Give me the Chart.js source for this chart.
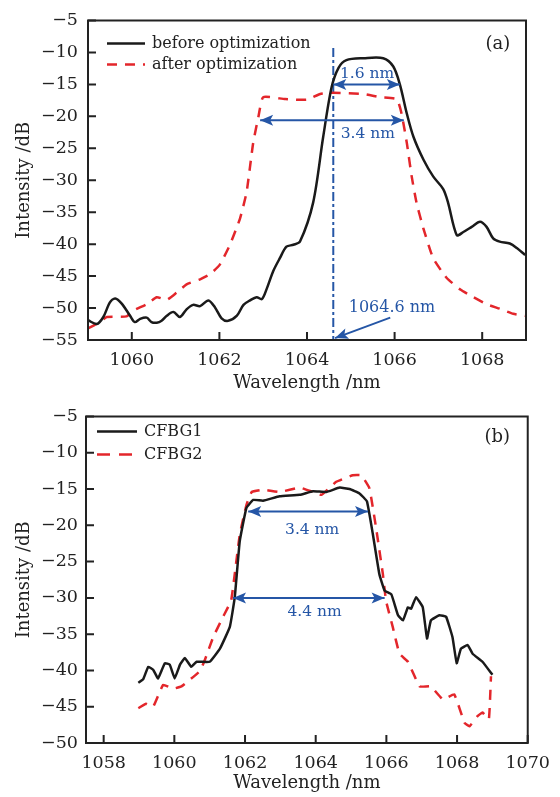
<!DOCTYPE html>
<html>
<head>
<meta charset="utf-8">
<script src="https://cdn.jsdelivr.net/npm/chart.js@4.4.0/dist/chart.umd.min.js"></script>
<style>
  body { margin: 0; background: #fff; }
  canvas { display: block; }
</style>
</head>
<body>
<canvas id="chartA" width="560" height="398"></canvas>
<canvas id="chartB" width="560" height="399"></canvas>
<script>
// ---- (a) before / after optimization ----
const waveBefore = [1059.0, 1059.2, 1059.35, 1059.5, 1059.62, 1059.77, 1059.96, 1060.07, 1060.19, 1060.34,
  1060.45, 1060.57, 1060.68, 1060.8, 1060.95, 1061.1, 1061.25, 1061.4, 1061.56, 1061.75,
  1061.9, 1062.05, 1062.2, 1062.4, 1062.55, 1062.7, 1062.85, 1062.97, 1063.08, 1063.23,
  1063.38, 1063.53, 1063.69, 1063.84, 1064.14, 1064.37, 1064.56, 1064.72, 1064.9, 1065.29,
  1065.74, 1065.97, 1066.12, 1066.28, 1066.43, 1066.66, 1066.88, 1067.11, 1067.22, 1067.42,
  1067.57, 1067.76, 1067.95, 1068.1, 1068.25, 1068.4, 1068.63, 1068.79, 1068.98];
const intBefore = [-51.9, -52.5, -51.4, -49.1, -48.5, -49.3, -51.2, -52.2, -51.7, -51.5,
  -52.2, -52.3, -52.0, -51.2, -50.6, -51.4, -50.2, -49.5, -49.7, -48.8,
  -49.9, -51.6, -52.0, -51.2, -49.5, -48.8, -48.3, -48.6, -47.0, -44.2,
  -42.2, -40.4, -40.1, -39.6, -33.5, -23.2, -15.5, -12.4, -11.2, -10.9,
  -10.9, -12.2, -15.0, -19.6, -23.2, -26.8, -29.4, -31.4, -33.5, -38.6,
  -38.1, -37.3, -36.5, -37.3, -39.1, -39.6, -39.9, -40.6, -41.7];
const waveAfter = [1059.0, 1059.27, 1059.43, 1059.88, 1060.03, 1060.34, 1060.57, 1060.8, 1061.02, 1061.25,
  1061.56, 1061.79, 1062.01, 1062.24, 1062.47, 1062.62, 1062.77, 1062.89, 1063.0, 1063.5,
  1064.0, 1064.3, 1064.6, 1065.29, 1065.67, 1066.05, 1066.16, 1066.28, 1066.39, 1066.5,
  1066.66, 1066.88, 1067.19, 1067.5, 1067.8, 1068.1, 1068.4, 1068.71, 1068.98];
const intAfter = [-53.2, -52.2, -51.4, -51.3, -50.4, -49.4, -48.3, -48.7, -47.6, -46.3,
  -45.5, -44.7, -43.2, -40.1, -36.0, -31.9, -24.2, -20.1, -17.0, -17.3,
  -17.4, -16.5, -16.3, -16.5, -17.0, -17.3, -19.6, -24.2, -29.4, -33.5,
  -37.6, -42.2, -45.3, -47.1, -48.3, -49.4, -50.1, -50.9, -51.2];
const xTicksA = [1060, 1062, 1064, 1066, 1068];
const yTicksA = [-55, -50, -45, -40, -35, -30, -25, -20, -15, -10, -5];
const centreWave = 1064.6;
const centreSpan = [-9.3, -55];

// ---- (b) CFBG1 / CFBG2 ----
const waveCfbg1 = [1058.98, 1059.12, 1059.26, 1059.4, 1059.54, 1059.73, 1059.87, 1060.01, 1060.16, 1060.3,
  1060.48, 1060.63, 1061.0, 1061.29, 1061.57, 1061.71, 1061.85, 1062.04, 1062.23, 1062.51,
  1062.98, 1063.55, 1063.92, 1064.3, 1064.68, 1064.96, 1065.24, 1065.45, 1065.62, 1065.8,
  1065.95, 1066.14, 1066.33, 1066.47, 1066.61, 1066.7, 1066.84, 1067.03, 1067.15, 1067.26,
  1067.5, 1067.69, 1067.87, 1067.99, 1068.11, 1068.3, 1068.44, 1068.72, 1069.0];
const intCfbg1 = [-41.7, -41.2, -39.5, -39.9, -41.1, -39.0, -39.2, -41.1, -39.2, -38.3,
  -39.5, -38.8, -38.8, -37.0, -34.0, -29.9, -22.2, -17.6, -16.5, -16.6,
  -16.0, -15.8, -15.3, -15.4, -14.8, -15.0, -15.6, -16.7, -21.3, -26.7,
  -29.0, -29.5, -32.4, -33.1, -31.3, -31.5, -29.9, -31.3, -35.6, -33.1,
  -32.4, -32.6, -35.4, -39.0, -37.0, -36.5, -37.7, -38.8, -40.6];
const waveCfbg2 = [1058.98, 1059.2, 1059.4, 1059.68, 1059.97, 1060.2, 1060.72, 1060.86, 1061.1, 1061.38,
  1061.61, 1061.85, 1062.04, 1062.19, 1062.51, 1062.98, 1063.55, 1063.92, 1064.16, 1064.58,
  1065.05, 1065.29, 1065.52, 1065.71, 1065.9, 1065.99, 1066.18, 1066.37, 1066.61, 1066.94,
  1067.26, 1067.6, 1067.92, 1068.21, 1068.35, 1068.58, 1068.72, 1068.9, 1068.96];
const intCfbg2 = [-45.2, -44.6, -45.0, -42.0, -42.5, -42.2, -40.1, -38.6, -35.4, -32.6,
  -30.3, -21.3, -17.2, -15.4, -15.1, -15.4, -14.8, -15.4, -15.8, -14.0,
  -13.1, -13.1, -14.9, -20.4, -26.7, -30.4, -34.0, -37.7, -38.8, -42.2,
  -42.2, -44.0, -43.3, -47.2, -47.7, -46.3, -45.8, -46.7, -40.8];
const xTicksB = [1058, 1060, 1062, 1064, 1066, 1068, 1070];
const yTicksB = [-50, -45, -40, -35, -30, -25, -20, -15, -10, -5];

const SERIF = '"DejaVu Serif", serif';
const INK = '#222';
const RED = '#e3262b';
const BLUE = '#2556a6';

const pts = (xs, ys) => xs.map((x, i) => ({ x, y: ys[i] }));
const minus = v => String(v).replace('-', '\u2212');

function arrowHead(ctx, x, y, ang) {
  ctx.save();
  ctx.translate(x, y);
  ctx.rotate(ang);
  ctx.beginPath();
  ctx.moveTo(0, 0);
  ctx.lineTo(-13, -5.5);
  ctx.lineTo(-10, 0);
  ctx.lineTo(-13, 5.5);
  ctx.closePath();
  ctx.fill();
  ctx.restore();
}

// arrow between two data points, heads at the ends asked for
function arrow(chart, p1, p2, both) {
  const { ctx, scales: { x, y } } = chart;
  const x1 = x.getPixelForValue(p1[0]), y1 = y.getPixelForValue(p1[1]);
  const x2 = x.getPixelForValue(p2[0]), y2 = y.getPixelForValue(p2[1]);
  const ang = Math.atan2(y2 - y1, x2 - x1);
  ctx.save();
  ctx.strokeStyle = BLUE; ctx.fillStyle = BLUE; ctx.lineWidth = 2;
  ctx.beginPath(); ctx.moveTo(x1, y1); ctx.lineTo(x2, y2); ctx.stroke();
  arrowHead(ctx, x2, y2, ang);
  if (both) arrowHead(ctx, x1, y1, ang + Math.PI);
  ctx.restore();
}

function label(chart, text, px, py, color, size) {
  const { ctx, scales: { x, y } } = chart;
  ctx.save();
  ctx.fillStyle = color;
  ctx.font = size + 'px ' + SERIF;
  ctx.textAlign = 'center'; ctx.textBaseline = 'middle';
  ctx.fillText(text, x.getPixelForValue(px), y.getPixelForValue(py));
  ctx.restore();
}

function legend(chart, items, dx, dy, gap, lineLen) {
  const { ctx, chartArea: a } = chart;
  items.forEach((it, i) => {
    const yy = a.top + dy + i * gap;
    ctx.save();
    ctx.strokeStyle = it.color; ctx.lineWidth = 2.5;
    ctx.setLineDash(it.dash || []);
    ctx.beginPath(); ctx.moveTo(a.left + dx, yy); ctx.lineTo(a.left + dx + lineLen, yy); ctx.stroke();
    ctx.setLineDash([]);
    ctx.fillStyle = INK; ctx.font = '16px ' + SERIF;
    ctx.textAlign = 'left'; ctx.textBaseline = 'middle';
    ctx.fillText(it.text, a.left + dx + lineLen + 7, yy);
    ctx.restore();
  });
}

// plot frame with inward tick marks
const framePlugin = {
  id: 'frame',
  afterDatasetsDraw(chart) {
    const { ctx, chartArea: a, scales: { x, y } } = chart;
    ctx.save();
    ctx.strokeStyle = INK; ctx.lineWidth = 2;
    ctx.strokeRect(a.left, a.top, a.right - a.left, a.bottom - a.top);
    ctx.beginPath();
    x.ticks.forEach(t => {
      const px = x.getPixelForValue(t.value);
      ctx.moveTo(px, a.bottom); ctx.lineTo(px, a.bottom - 8);
    });
    y.ticks.forEach(t => {
      const py = y.getPixelForValue(t.value);
      ctx.moveTo(a.left, py); ctx.lineTo(a.left + 8, py);
    });
    ctx.stroke();
    ctx.restore();
  }
};

function makeOptions(cfg) {
  const tickFont = { family: SERIF, size: 17.5 };
  const titleFont = { family: SERIF, size: 18, lineHeight: 1.2 };
  return {
    responsive: false,
    animation: false,
    layout: { padding: cfg.pad },
    plugins: { legend: { display: false }, tooltip: { enabled: false } },
    scales: {
      x: {
        type: 'linear', min: cfg.xMin, max: cfg.xMax,
        afterBuildTicks: s => { s.ticks = cfg.xTicks.map(v => ({ value: v })); },
        afterFit: s => { s.height = cfg.xH; },
        grid: { display: false, drawTicks: false },
        border: { display: false },
        ticks: { font: tickFont, color: INK, padding: 10, maxRotation: 0, autoSkip: false,
          callback: v => String(v) },
        title: { display: true, text: 'Wavelength /nm', color: INK,
          font: titleFont, padding: { top: 0, bottom: cfg.xTitlePad } }
      },
      y: {
        type: 'linear', min: cfg.yMin, max: cfg.yMax,
        afterBuildTicks: s => { s.ticks = cfg.yTicks.map(v => ({ value: v })); },
        afterFit: s => { s.width = cfg.yW; },
        grid: { display: false, drawTicks: false },
        border: { display: false },
        ticks: { font: tickFont, color: INK, padding: cfg.yPad, callback: v => minus(v) },
        title: { display: true, text: 'Intensity /dB', color: INK,
          font: titleFont, padding: { top: 14, bottom: 0 } }
      }
    }
  };
}

// Chart (a)
new Chart(document.getElementById('chartA'), {
  type: 'scatter',
  data: {
    datasets: [
      { label: 'before optimization', data: pts(waveBefore, intBefore), showLine: true,
        borderColor: '#1a1a1a', borderWidth: 2.5, pointRadius: 0, tension: 0.3 },
      { label: 'after optimization', data: pts(waveAfter, intAfter), showLine: true,
        borderColor: RED, borderWidth: 2.5, borderDash: [10, 8], pointRadius: 0, tension: 0.15 },
      { label: 'centre', data: pts([centreWave, centreWave], centreSpan), showLine: true,
        borderColor: BLUE, borderWidth: 2, borderDash: [9, 3, 3, 3], pointRadius: 0 }
    ]
  },
  options: makeOptions({ xMin: 1059, xMax: 1069, yMin: -55, yMax: -5, xTicks: xTicksA, yTicks: yTicksA,
    pad: { top: 15, right: 34, bottom: 0, left: 0 }, xH: 58, yW: 88, yPad: 10, xTitlePad: 4 }),
  plugins: [framePlugin, {
    id: 'notesA',
    afterDraw(chart) {
      arrow(chart, [1064.6, -15], [1066.12, -15], true);
      label(chart, '1.6 nm', 1065.37, -13.3, BLUE, 15.5);
      arrow(chart, [1062.93, -20.6], [1066.21, -20.6], true);
      label(chart, '3.4 nm', 1065.39, -22.7, BLUE, 15.5);
      arrow(chart, [1065.9, -51.5], [1064.64, -54.7], false);
      label(chart, '1064.6 nm', 1065.94, -49.9, BLUE, 16);
      label(chart, '(a)', 1068.36, -8.8, INK, 18);
      legend(chart, [
        { text: 'before optimization', color: '#1a1a1a' },
        { text: 'after optimization', color: RED, dash: [10, 8] }
      ], 19, 23, 21, 38);
    }
  }]
});

// Chart (b)
new Chart(document.getElementById('chartB'), {
  type: 'scatter',
  data: {
    datasets: [
      { label: 'CFBG1', data: pts(waveCfbg1, intCfbg1), showLine: true,
        borderColor: '#1a1a1a', borderWidth: 2.5, pointRadius: 0, tension: 0.1 },
      { label: 'CFBG2', data: pts(waveCfbg2, intCfbg2), showLine: true,
        borderColor: RED, borderWidth: 2.5, borderDash: [10, 8], pointRadius: 0, tension: 0.1 }
    ]
  },
  options: makeOptions({ xMin: 1057.5, xMax: 1070, yMin: -50, yMax: -5, xTicks: xTicksB, yTicks: yTicksB,
    pad: { top: 16, right: 32, bottom: 0, left: 0 }, xH: 54, yW: 86, yPad: 8, xTitlePad: 3 }),
  plugins: [framePlugin, {
    id: 'notesB',
    afterDraw(chart) {
      arrow(chart, [1062.09, -18.1], [1065.48, -18.1], true);
      label(chart, '3.4 nm', 1063.9, -20.6, BLUE, 15.5);
      arrow(chart, [1061.66, -30.0], [1065.95, -30.0], true);
      label(chart, '4.4 nm', 1063.97, -32.0, BLUE, 15.5);
      label(chart, '(b)', 1069.14, -7.9, INK, 18);
      legend(chart, [
        { text: 'CFBG1', color: '#1a1a1a' },
        { text: 'CFBG2', color: RED, dash: [13, 9] }
      ], 11, 15, 23, 40);
    }
  }]
});
</script>
</body>
</html>
